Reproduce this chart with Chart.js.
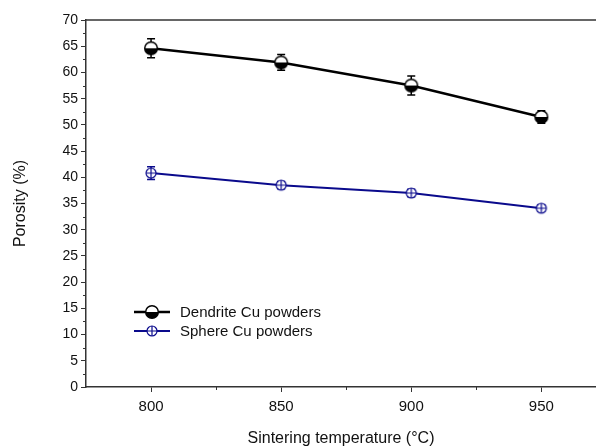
<!DOCTYPE html>
<html>
<head>
<meta charset="utf-8">
<script src="https://cdn.jsdelivr.net/npm/chart.js@4.4.1/dist/chart.umd.min.js"></script>
<style>
  html, body { margin: 0; padding: 0; background: #fff; overflow: hidden; }
  #box { width: 596px; height: 446px; position: relative; }
</style>
</head>
<body>
<div id="box"><canvas id="graficoPorosidade"></canvas></div>
<script>
const temperaturas = [800, 850, 900, 950];
const dendrite = [64.6, 61.9, 57.5, 51.5];
const dendriteErro = [1.8, 1.5, 1.8, 1.2];
const esfera = [40.8, 38.5, 37.0, 34.1];
const esferaErro = [1.2, 0.7, 0.7, 0.6];
const minorX = [825, 875, 925];
const nomes = ['Dendrite Cu powders', 'Sphere Cu powders'];

const FONTE = 'Arial, "Liberation Sans", sans-serif';
const AZUL = '#0a0a8c';

// marcadores desenhados num canvas pequeno e usados como pointStyle
function meioCirculo() {
    const c = document.createElement('canvas');
    c.width = c.height = 16;
    const g = c.getContext('2d');
    g.beginPath(); g.arc(8, 8, 6.3, 0, Math.PI); g.fillStyle = '#000'; g.fill();
    g.beginPath(); g.arc(8, 8, 6.3, Math.PI, 2 * Math.PI); g.fillStyle = '#fff'; g.fill();
    g.beginPath(); g.arc(8, 8, 6.3, 0, 2 * Math.PI);
    g.lineWidth = 1.5; g.strokeStyle = '#000'; g.stroke();
    return c;
}
function circuloCruz() {
    const c = document.createElement('canvas');
    c.width = c.height = 14;
    const g = c.getContext('2d');
    g.beginPath(); g.arc(7, 7, 5, 0, 2 * Math.PI); g.fillStyle = '#fff'; g.fill();
    g.lineWidth = 1.2; g.strokeStyle = AZUL; g.stroke();
    g.beginPath(); g.moveTo(2, 7); g.lineTo(12, 7); g.moveTo(7, 2); g.lineTo(7, 12); g.stroke();
    return c;
}
const marcadores = [meioCirculo(), circuloCruz()];

const barrasErro = {
    id: 'barrasErro',
    beforeDatasetsDraw(chart) {
        const ctx = chart.ctx, y = chart.scales.y;
        chart.data.datasets.forEach((ds, i) => {
            const meta = chart.getDatasetMeta(i);
            ctx.save();
            ctx.strokeStyle = ds.borderColor;
            ctx.lineWidth = 1.5;
            meta.data.forEach((pt, j) => {
                const v = ds.data[j].y, e = ds.erros[j];
                const t = y.getPixelForValue(v + e), b = y.getPixelForValue(v - e);
                ctx.beginPath();
                ctx.moveTo(pt.x, t); ctx.lineTo(pt.x, b);
                ctx.moveTo(pt.x - 4, t); ctx.lineTo(pt.x + 4, t);
                ctx.moveTo(pt.x - 4, b); ctx.lineTo(pt.x + 4, b);
                ctx.stroke();
            });
            ctx.restore();
        });
    },
    afterDraw(chart) {
        const ctx = chart.ctx, a = chart.chartArea;
        const sx = chart.scales.x, sy = chart.scales.y;
        ctx.save();
        ctx.strokeStyle = '#333';
        ctx.lineWidth = 1.5;
        ctx.beginPath();
        ctx.moveTo(a.left, a.top); ctx.lineTo(chart.width, a.top);
        ctx.stroke();
        // ticks menores
        ctx.lineWidth = 1;
        ctx.beginPath();
        for (let v = 2.5; v < 70; v += 5) {
            const p = Math.round(sy.getPixelForValue(v)) + 0.5;
            ctx.moveTo(a.left - 3, p); ctx.lineTo(a.left, p);
        }
        minorX.forEach(v => {
            const p = Math.round(sx.getPixelForValue(v)) + 0.5;
            ctx.moveTo(p, a.bottom); ctx.lineTo(p, a.bottom + 3);
        });
        ctx.stroke();
        // legenda dentro da área
        ctx.font = '15px ' + FONTE;
        ctx.textBaseline = 'middle';
        ctx.fillStyle = '#111';
        chart.data.datasets.forEach((ds, i) => {
            const ly = 312 + i * 19;
            ctx.strokeStyle = ds.borderColor;
            ctx.lineWidth = ds.borderWidth;
            ctx.beginPath(); ctx.moveTo(134, ly); ctx.lineTo(170, ly); ctx.stroke();
            const m = marcadores[i];
            ctx.drawImage(m, 152 - m.width / 2, ly - m.height / 2);
            ctx.fillText(nomes[i], 180, ly + 1);
        });
        ctx.restore();
    }
};

const ctx = document.getElementById('graficoPorosidade');

new Chart(ctx, {
    type: 'line',
    data: {
        datasets: [{
            label: nomes[0],
            data: temperaturas.map((t, i) => ({x: t, y: dendrite[i]})),
            erros: dendriteErro,
            borderColor: '#000',
            borderWidth: 2.5,
            pointStyle: marcadores[0],
            tension: 0
        }, {
            label: nomes[1],
            data: temperaturas.map((t, i) => ({x: t, y: esfera[i]})),
            erros: esferaErro,
            borderColor: AZUL,
            borderWidth: 2,
            pointStyle: marcadores[1],
            tension: 0
        }]
    },
    options: {
        responsive: true,
        maintainAspectRatio: false,
        animation: false,
        layout: { autoPadding: false, padding: { top: 20, right: 0, bottom: 0, left: 0 } },
        plugins: { legend: { display: false }, tooltip: { enabled: false } },
        scales: {
            x: {
                type: 'linear',
                min: 775,
                max: 971,
                afterFit: s => { s.height = 59; },
                border: { color: '#333', width: 1.5 },
                grid: { drawOnChartArea: false, color: '#333', tickLength: 5 },
                ticks: { stepSize: 50, includeBounds: false, color: '#111', padding: 6,
                         font: { family: FONTE, size: 15 } },
                title: { display: true, text: 'Sintering temperature (°C)', color: '#111',
                         padding: { top: 0, bottom: -2 }, font: { family: FONTE, size: 16 } }
            },
            y: {
                min: 0,
                max: 70,
                afterFit: s => { s.width = 86; },
                border: { color: '#333', width: 1.5 },
                grid: { drawOnChartArea: false, color: '#333', tickLength: 5 },
                ticks: { stepSize: 5, color: '#111', padding: 3,
                         font: { family: FONTE, size: 14 } },
                title: { display: true, text: 'Porosity (%)', color: '#111',
                         padding: { top: 11, bottom: 0 }, font: { family: FONTE, size: 16 } }
            }
        }
    },
    plugins: [barrasErro]
});
</script>
</body>
</html>
